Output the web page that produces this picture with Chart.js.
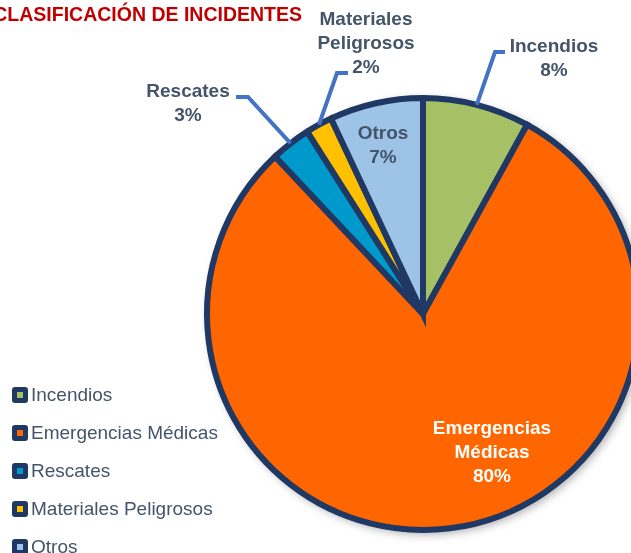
<!DOCTYPE html>
<html lang="es">
<head>
<meta charset="UTF-8">
<title>Clasificación de incidentes</title>
<script src="https://cdn.jsdelivr.net/npm/chart.js"></script>
<style>
    html, body { margin: 0; padding: 0; background: #ffffff; overflow: hidden; }
    .wrap { position: relative; width: 631px; height: 553px; overflow: hidden; }
    canvas { position: absolute; left: 0; top: 0; }
</style>
</head>
<body>
<div class="wrap">
    <canvas id="pieChart" width="660" height="553"></canvas>
</div>

<script>
    // Datos del gráfico
    const categories = ['Incendios', 'Emergencias Médicas', 'Rescates', 'Materiales Peligrosos', 'Otros'];
    const percentages = [8, 80, 3, 2, 7];
    // texto de las etiquetas (líneas)
    const labelLines = [
        ['Incendios'],
        ['Emergencias', 'Médicas'],
        ['Rescates'],
        ['Materiales', 'Peligrosos'],
        ['Otros']
    ];
    const chartTitle = 'CLASIFICACIÓN DE INCIDENTES';

    const sliceColors = ['#A5C065', '#FF6600', '#0099CC', '#FFC000', '#9DC3E6'];
    const borderNavy = '#1F3864';
    const textSlate = '#44546A';
    const leaderBlue = '#4472C4';
    const FONT = '"Liberation Sans", Arial, sans-serif';

    // posicion de etiquetas relativa al centro (dx, dy) y codo de la linea guia
    const labelStyle = [
        { dx: 131, dy: -255, color: textSlate, bend: [72, -262], end: [82, -262] },
        { dx: 69, dy: 139, color: '#ffffff' },
        { dx: -235, dy: -210, color: textSlate, bend: [-175, -217], end: [-187, -217] },
        { dx: -57, dy: -270, color: textSlate, bend: [-86, -241], end: [-75, -241] },
        { dx: -40, dy: -168, color: textSlate }
    ];

    // sombra detras del pastel
    const shadowPlugin = {
        id: 'pieShadow',
        beforeDatasetsDraw(chart) {
            const arc = chart.getDatasetMeta(0).data[0];
            const { x, y, outerRadius } = arc.getProps(['x', 'y', 'outerRadius'], true);
            const ctx = chart.ctx;
            ctx.save();
            ctx.shadowColor = 'rgba(0,0,0,0.35)';
            ctx.shadowBlur = 10;
            ctx.shadowOffsetX = 3;
            ctx.shadowOffsetY = 3;
            ctx.beginPath();
            ctx.arc(x, y, outerRadius + 1, 0, Math.PI * 2);
            ctx.fillStyle = borderNavy;
            ctx.fill();
            ctx.restore();
        }
    };

    // etiquetas, lineas guia, titulo y leyenda
    const labelPlugin = {
        id: 'pieLabels',
        afterDraw(chart) {
            const ctx = chart.ctx;
            const arcs = chart.getDatasetMeta(0).data;
            const c = arcs[0].getProps(['x', 'y', 'outerRadius'], true);
            ctx.save();

            arcs.forEach((arc, i) => {
                const p = arc.getProps(['startAngle', 'endAngle', 'outerRadius'], true);
                const st = labelStyle[i];
                if (st.bend) {
                    const mid = (p.startAngle + p.endAngle) / 2;
                    const r = p.outerRadius;
                    ctx.beginPath();
                    ctx.moveTo(c.x + Math.cos(mid) * r, c.y + Math.sin(mid) * r);
                    ctx.lineTo(c.x + st.bend[0], c.y + st.bend[1]);
                    ctx.lineTo(c.x + st.end[0], c.y + st.end[1]);
                    ctx.strokeStyle = leaderBlue;
                    ctx.lineWidth = 4;
                    ctx.lineJoin = 'miter';
                    ctx.stroke();
                }
                const lines = labelLines[i].concat([percentages[i] + '%']);
                ctx.font = 'bold 19px ' + FONT;
                ctx.fillStyle = st.color;
                ctx.textAlign = 'center';
                ctx.textBaseline = 'middle';
                const startY = c.y + st.dy - (lines.length - 1) * 24 / 2;
                lines.forEach((t, k) => ctx.fillText(t, c.x + st.dx, startY + k * 24));
            });

            // titulo
            ctx.font = 'bold 19.5px ' + FONT;
            ctx.fillStyle = '#C00000';
            ctx.textAlign = 'right';
            ctx.textBaseline = 'middle';
            ctx.fillText(chartTitle, 302, 16);

            // leyenda
            categories.forEach((name, i) => {
                const yc = 395 + i * 38;
                ctx.fillStyle = borderNavy;
                ctx.beginPath();
                ctx.roundRect(12, yc - 8, 16, 16, 3);
                ctx.fill();
                ctx.fillStyle = sliceColors[i];
                ctx.fillRect(17, yc - 3, 6, 6);
                ctx.font = '19px ' + FONT;
                ctx.fillStyle = textSlate;
                ctx.textAlign = 'left';
                ctx.textBaseline = 'middle';
                ctx.fillText(name, 31, yc + 1);
            });
            ctx.restore();
        }
    };

    new Chart(document.getElementById('pieChart'), {
        type: 'pie',
        data: {
            labels: categories,
            datasets: [{
                data: percentages,
                backgroundColor: sliceColors,
                borderColor: borderNavy,
                borderWidth: 6,
                hoverOffset: 0,
                borderJoinStyle: 'miter'
            }]
        },
        options: {
            responsive: false,
            animation: false,
            layout: { padding: { left: 204, top: 95, right: 18, bottom: 20 } },
            plugins: {
                legend: { display: false },
                title: { display: false },
                tooltip: { enabled: false }
            }
        },
        plugins: [shadowPlugin, labelPlugin]
    });
</script>
</body>
</html>
